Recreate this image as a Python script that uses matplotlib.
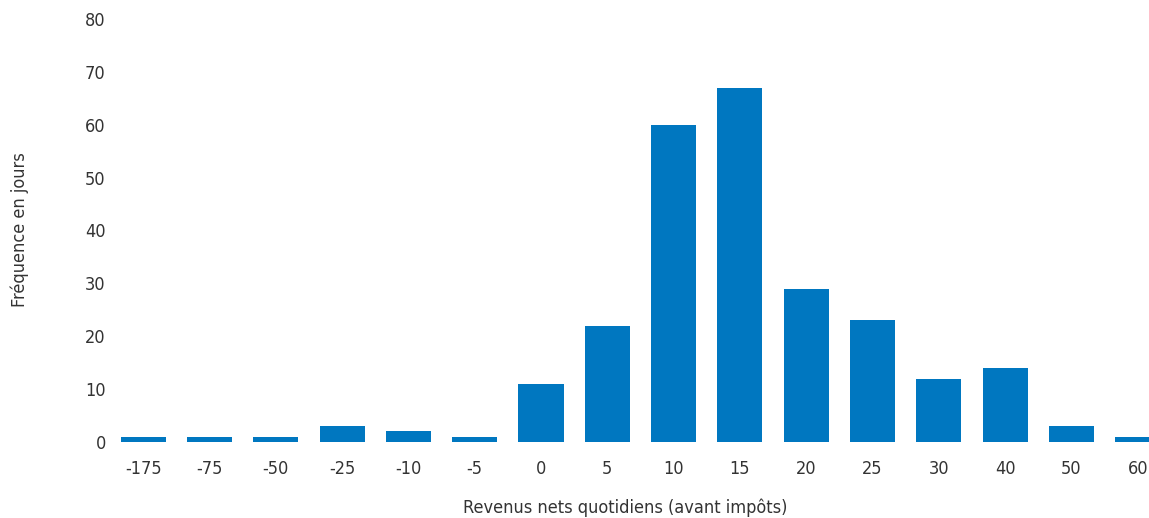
import matplotlib
matplotlib.use('Agg')
import matplotlib.pyplot as plt
from matplotlib import font_manager
import numpy as np

# ─── Data ──────────────────────────────────────────────────────────
categories = ['-175', '-75', '-50', '-25', '-10', '-5', '0', '5',
              '10', '15', '20', '25', '30', '40', '50', '60']
frequency = [1, 1, 1, 3, 2, 1, 11, 22, 60, 67, 29, 23, 12, 14, 3, 1]
y_ticks = [0, 10, 20, 30, 40, 50, 60, 70, 80]

BLUE = '#0077C0'
TEXT = '#333333'

# pick a narrow face if one is installed
names = {f.name for f in font_manager.fontManager.ttflist}
narrow = [n for n in ['Liberation Sans Narrow', 'DejaVu Sans Condensed'] if n in names]
plt.rcParams['font.family'] = narrow + ['DejaVu Sans']
plt.rcParams['font.stretch'] = 'condensed'

W, H = 1149, 518
fig = plt.figure(figsize=(W / 100, H / 100), dpi=100)
ax = fig.add_axes([110 / W, (H - 442) / H, (W - 110) / W, (442 - 19) / H])

x = np.arange(len(categories))
ax.bar(x, frequency, width=0.68, color=BLUE, zorder=3)

ax.set_xlim(-0.5, 15.17)
ax.set_ylim(0, 80)
ax.set_xticks(x)
ax.set_xticklabels(categories)
ax.set_yticks(y_ticks)
ax.tick_params(axis='both', length=0, labelsize=13, colors=TEXT)
ax.tick_params(axis='x', pad=13)
ax.tick_params(axis='y', pad=3)
for s in ax.spines.values():
    s.set_visible(False)

fig.text(20 / W, 1 - 230 / H, 'Fréquence en jours', rotation=90,
         ha='center', va='center', fontsize=13, color=TEXT)
fig.text(625 / W, 1 - 508 / H, 'Revenus nets quotidiens (avant impôts)',
         ha='center', va='center', fontsize=13, color=TEXT)

fig.savefig('out.png', dpi=100)
